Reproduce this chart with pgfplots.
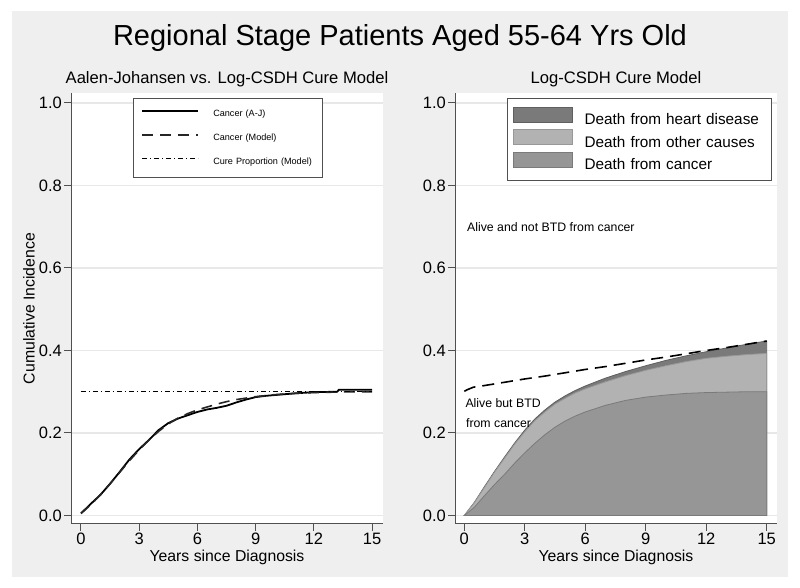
\documentclass[border=0pt]{standalone}
\usepackage{fontspec}
\setmainfont{Liberation Sans}
\usepackage{pgfplots}
\usepackage{pgfplotstable}
\pgfplotsset{compat=1.18}

\definecolor{bggray}{RGB}{239,239,239}
\definecolor{gridgray}{RGB}{232,232,232}
\definecolor{axgray}{RGB}{80,80,80}
\definecolor{heartfill}{RGB}{122,122,122}
\definecolor{heartdraw}{RGB}{95,95,95}
\definecolor{otherfill}{RGB}{178,178,178}
\definecolor{otherdraw}{RGB}{152,152,152}
\definecolor{cancerfill}{RGB}{150,150,150}
\definecolor{cancerdraw}{RGB}{122,122,122}

% left panel: Aalen-Johansen and model cancer incidence
\pgfplotstableread{
t     aj
0     0.005
0.5   0.028
1     0.050
1.5   0.077
2     0.106
2.5   0.136
3     0.161
3.5   0.183
4     0.207
4.5   0.224
5     0.235
5.5   0.243
6     0.251
6.5   0.257
7     0.261
7.5   0.266
8     0.274
8.5   0.281
9     0.287
9.5   0.290
10    0.292
11    0.296
12    0.299
13.2  0.300
13.3  0.305
15    0.305
}\ldata
\pgfplotstableread{
t     mod
0     0.005
0.5   0.026
1     0.050
1.5   0.077
2     0.105
2.5   0.133
3     0.159
3.5   0.183
4     0.204
4.5   0.222
5     0.236
5.5   0.247
6     0.256
6.5   0.263
7     0.270
7.5   0.276
8     0.281
9     0.288
10    0.293
11    0.296
12    0.298
13    0.299
14    0.300
15    0.300
}\lmodel
% right panel: stacked cumulative incidence (C cancer, O + other, T + heart)
\pgfplotstableread{
t     C      O      T
0     0      0      0
0.5   0.020  0.031  0.032
1     0.048  0.068  0.070
1.5   0.075  0.105  0.107
2     0.100  0.139  0.142
2.5   0.127  0.173  0.176
3     0.152  0.203  0.207
3.5   0.175  0.230  0.234
4     0.196  0.251  0.256
4.5   0.214  0.270  0.275
5     0.229  0.284  0.290
5.5   0.241  0.297  0.303
6     0.251  0.307  0.314
7     0.267  0.324  0.333
8     0.279  0.339  0.349
9     0.287  0.352  0.363
10    0.292  0.363  0.376
11    0.296  0.373  0.387
12    0.298  0.381  0.397
13    0.299  0.386  0.406
14    0.300  0.390  0.415
15    0.300  0.393  0.423
}\rdata
\pgfplotstableread{
t     D
0     0.301
0.15  0.305
0.45  0.311
1     0.315
2     0.323
3     0.331
4     0.338
5     0.346
6     0.354
7     0.361
8     0.369
9     0.377
10    0.384
11    0.392
12    0.400
13    0.407
14    0.415
15    0.423
}\rdash

\pgfplotsset{
  stataaxis/.style={
    scale only axis, height=431pt,
    axis x line*=bottom, axis y line*=left,
    axis line style={axgray, line width=1pt},
    tick align=outside, major tick length=7pt,
    tick style={axgray, line width=1pt},
    ymin=-0.0206, ymax=1.0242,
    ytick={0,0.2,0.4,0.6,0.8,1.0},
    xtick={0,3,6,9,12,15},
    yticklabel style={/pgf/number format/fixed,
      /pgf/number format/fixed zerofill,
      /pgf/number format/precision=1},
    ymajorgrids, grid style={gridgray, line width=1.2pt},
    axis background/.style={fill=white},
    /pgf/number format/assume math mode=true,
    tick label style={font=\fontsize{16.5}{19}\selectfont, inner sep=2pt},
    label style={font=\fontsize{15.8}{18}\selectfont},
    title style={font=\fontsize{16.6}{20}\selectfont,
      at={(axis description cs:0.5,1.0075)}, anchor=base},
    xlabel={Years since Diagnosis},
    xlabel style={at={(axis description cs:0.5,-0.0880)}, anchor=base},
    legend cell align=left,
  },
}

\begin{document}
\begin{tikzpicture}
  \path[use as bounding box] (0pt,0pt) rectangle (800pt,588pt);
  \fill[white] (0pt,0pt) rectangle (800pt,588pt);
  \fill[bggray] (12pt,11pt) rectangle (788pt,577pt);
  \node[anchor=base, inner sep=0pt, font=\fontsize{29}{34}\selectfont]
    at (400pt,542.6pt) {Regional Stage Patients Aged 55-64 Yrs Old};

  \begin{axis}[stataaxis,
      at={(71pt,64pt)}, anchor=south west, width=312pt,
      xmin=-0.515, xmax=15.567,
      title={Aalen-Johansen vs. Log-CSDH Cure Model},
      ylabel={Cumulative Incidence},
      ylabel style={at={(axis description cs:-0.1167,0.5)}, anchor=base, rotate=0},
      legend style={at={(axis description cs:0.199,0.988)}, anchor=north west,
        draw=axgray, line width=0.8pt, fill=white,
        font=\fontsize{9.1}{11}\selectfont,
        inner xsep=8pt, inner ysep=11pt, row sep=15.6pt, column sep=14pt,
        nodes={inner sep=0pt, text height=6.6pt, text depth=1.9pt, text width=101pt}},
      legend image code/.code={\draw[#1] (0pt,3.2pt) -- (56pt,3.2pt);},
    ]
    \addplot[black, line width=1.8pt] table[x=t, y=aj] {\ldata};
    \addlegendentry{Cancer (A-J)}
    \addplot[black!85, line width=1.6pt, dash pattern=on 11pt off 7pt] table[x=t, y=mod] {\lmodel};
    \addlegendentry{Cancer (Model)}
    \addplot[black, line width=1pt, dash pattern=on 5pt off 3pt on 1pt off 3pt]
      coordinates {(0,0.30) (15,0.30)};
    \addlegendentry{Cure Proportion (Model)}
  \end{axis}

  \begin{axis}[stataaxis,
      at={(455pt,64pt)}, anchor=south west, width=322pt,
      xmin=-0.461, xmax=15.51,
      title={Log-CSDH Cure Model},
      legend style={at={(axis description cs:0.9845,0.988)}, anchor=north east,
        draw=axgray, line width=0.8pt, fill=white,
        font=\fontsize{15.3}{18}\selectfont,
        inner xsep=5pt, inner ysep=8pt, row sep=2.1pt, column sep=12pt,
        nodes={inner sep=0pt, text height=12pt, text depth=2pt, text width=182pt}},
      legend image code/.code={\draw[#1] (0pt,-2pt) rectangle (59pt,13pt);},
    ]
    \addplot[draw=heartdraw, fill=heartfill, line width=0.8pt] table[x=t, y=T] {\rdata} \closedcycle;
    \addlegendentry{Death from heart disease}
    \addplot[draw=otherdraw, fill=otherfill, line width=0.8pt] table[x=t, y=O] {\rdata} \closedcycle;
    \addlegendentry{Death from other causes}
    \addplot[draw=cancerdraw, fill=cancerfill, line width=0.8pt] table[x=t, y=C] {\rdata} \closedcycle;
    \addlegendentry{Death from cancer}
    \addplot[forget plot, black, line width=1.6pt, dash pattern=on 12pt off 7pt] table[x=t, y=D] {\rdash};
    \node[anchor=west, inner sep=0pt, font=\fontsize{12.3}{14}\selectfont]
      at (axis cs:0.13,0.70) {Alive and not BTD from cancer};
    \node[anchor=west, inner sep=0pt, font=\fontsize{12.3}{14}\selectfont]
      at (axis cs:0.05,0.272) {Alive but BTD};
    \node[anchor=west, inner sep=0pt, font=\fontsize{12.3}{14}\selectfont]
      at (axis cs:0.08,0.224) {from cancer};
  \end{axis}
\end{tikzpicture}
\end{document}
